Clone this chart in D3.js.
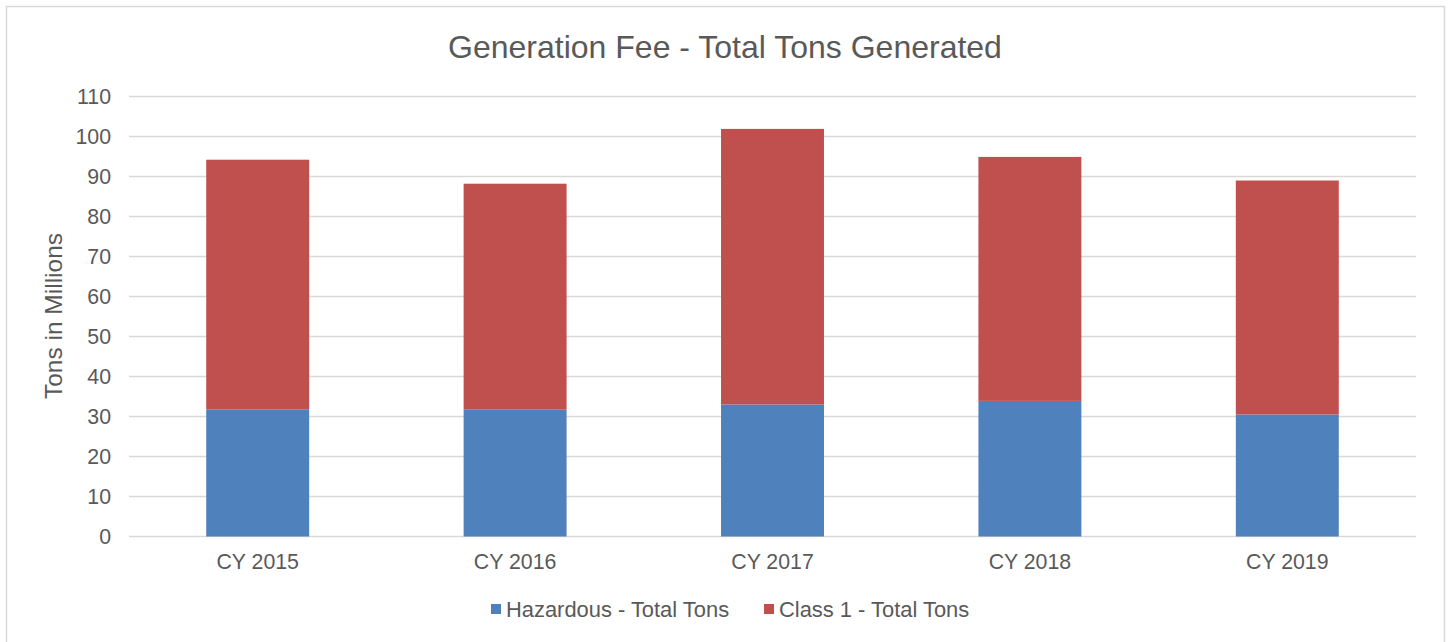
<!DOCTYPE html>
<html>
  <head>
    <meta charset="utf-8">
    <script src="https://cdn.jsdelivr.net/npm/d3@7"></script>
    <style>
      body { margin: 0; background: #fff; }
      text { font-family: "Liberation Sans", Arial, sans-serif; fill: #595959; }
    </style>
  </head>
  <body>
    <script>
      // Chart data
      var years = ["CY 2015", "CY 2016", "CY 2017", "CY 2018", "CY 2019"];
      var hazardous = [31.8, 31.7, 33.0, 33.9, 30.5];
      var class1 = [62.4, 56.5, 68.9, 61.0, 58.5];
      var seriesNames = ["Hazardous - Total Tons", "Class 1 - Total Tons"];
      var seriesColors = ["#4f81bd", "#c0504d"];
      var yTicks = [0, 10, 20, 30, 40, 50, 60, 70, 80, 90, 100, 110];

      var width = 1449;
      var height = 642;
      var margin = { left: 129, right: 33, top: 96.5, bottom: 105.5 };

      var svg = d3.select("body")
                  .append("svg")
                  .attr("width", width)
                  .attr("height", height);

      // Chart frame
      svg.append("rect")
         .attr("x", 6.5)
         .attr("y", 6.5)
         .attr("width", 1438)
         .attr("height", 660)
         .attr("fill", "#fff")
         .attr("stroke", "#d9d9d9")
         .attr("stroke-width", 1.5);

      // Scales
      var x = d3.scaleBand()
                .domain(years)
                .range([margin.left, width - margin.right]);
      var y = d3.scaleLinear()
                .domain([0, 110])
                .range([height - margin.bottom, margin.top]);

      // Gridlines
      svg.append("g")
         .selectAll("line")
         .data(yTicks)
         .enter()
         .append("line")
         .attr("x1", margin.left)
         .attr("x2", width - margin.right)
         .attr("y1", function(d) { return y(d); })
         .attr("y2", function(d) { return y(d); })
         .attr("stroke", "#d9d9d9")
         .attr("stroke-width", 1.5);

      // Stack the two series
      var rows = years.map(function(c, i) {
        return { year: c, h: hazardous[i], c: class1[i] };
      });
      var stack = d3.stack().keys(["h", "c"])(rows);
      var barWidth = x.bandwidth() * 0.4;

      svg.append("g")
         .selectAll("g")
         .data(stack)
         .enter()
         .append("g")
         .attr("fill", function(d, i) { return seriesColors[i]; })
         .selectAll("rect")
         .data(function(d) { return d; })
         .enter()
         .append("rect")
         .attr("x", function(d) { return x(d.data.year) + (x.bandwidth() - barWidth) / 2; })
         .attr("y", function(d) { return y(d[1]); })
         .attr("width", barWidth)
         .attr("height", function(d) { return y(d[0]) - y(d[1]); });

      // Y axis labels
      var yAxis = d3.axisLeft(y).tickValues(yTicks).tickSize(0).tickPadding(0);
      var gy = svg.append("g")
                  .attr("transform", "translate(111,0)")
                  .call(yAxis);
      gy.select(".domain").remove();
      gy.selectAll("text")
        .style("font-family", "'Liberation Sans', Arial, sans-serif")
        .style("font-size", "21.3px")
        .attr("fill", "#595959");

      // X axis labels
      var xAxis = d3.axisBottom(x).tickSize(0).tickPadding(0);
      var gx = svg.append("g")
                  .attr("transform", "translate(0," + (height - margin.bottom + 17) + ")")
                  .call(xAxis);
      gx.select(".domain").remove();
      gx.selectAll("text")
        .style("font-family", "'Liberation Sans', Arial, sans-serif")
        .style("font-size", "21.3px")
        .attr("fill", "#595959");

      // Y axis title
      svg.append("text")
         .text("Tons in Millions")
         .attr("text-anchor", "middle")
         .attr("font-size", "24.5px")
         .attr("transform", "translate(62,316) rotate(-90)");

      // Chart title
      svg.append("text")
         .text("Generation Fee - Total Tons Generated")
         .attr("x", 725)
         .attr("y", 58)
         .attr("text-anchor", "middle")
         .attr("font-size", "32px");

      // Legend
      var legendX = [491, 764];
      var legend = svg.append("g")
                      .selectAll("g")
                      .data(seriesNames)
                      .enter()
                      .append("g")
                      .attr("transform", function(d, i) { return "translate(" + legendX[i] + ",604)"; });
      legend.append("rect")
            .attr("width", 10)
            .attr("height", 10)
            .attr("fill", function(d, i) { return seriesColors[i]; });
      legend.append("text")
            .text(function(d) { return d; })
            .attr("x", 15)
            .attr("y", 12.5)
            .attr("font-size", "21.9px");
    </script>
  </body>
</html>
